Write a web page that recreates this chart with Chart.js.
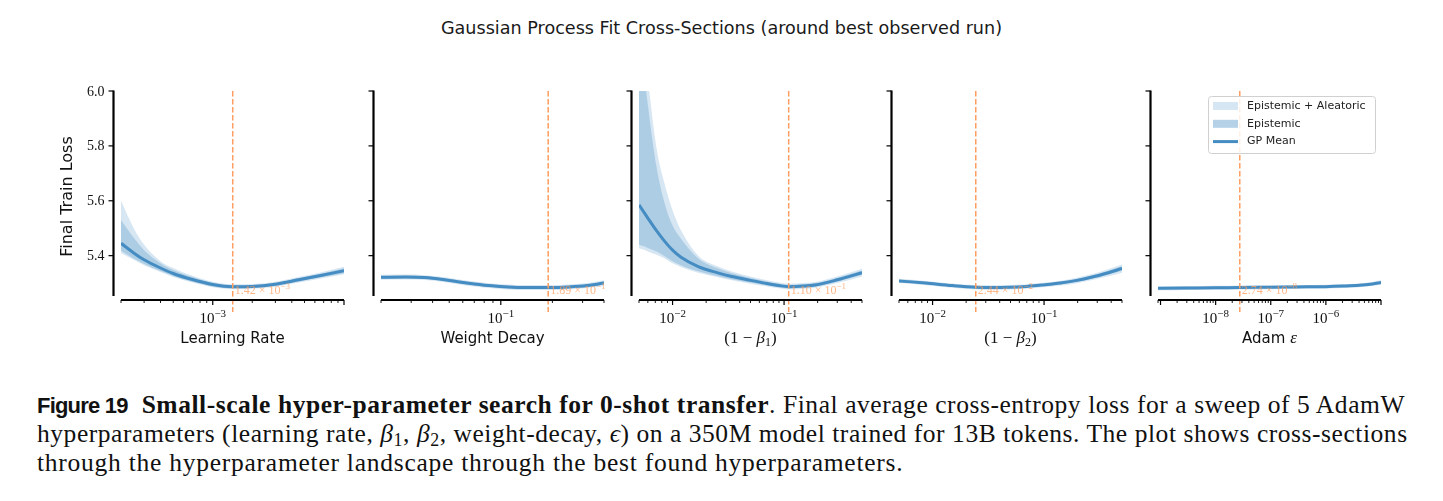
<!DOCTYPE html>
<html>
<head>
<meta charset="utf-8">
<script src="https://cdn.jsdelivr.net/npm/chart.js@4.4.1/dist/chart.umd.min.js"></script>
<style>
  body { margin:0; width:1443px; height:501px; background:#fff; position:relative; overflow:hidden; }
  #title { position:absolute; left:0; width:1443px; top:18px; text-align:center; font:17.6px 'DejaVu Sans'; color:#1a1a1a; }
  canvas { position:absolute; top:60px; }
  .cap { position:absolute; left:37px; width:1368px; font:25.5px/28px 'Liberation Serif'; letter-spacing:0.55px; color:#111; text-align:justify; text-align-last:justify; white-space:nowrap; }
  .cap.last { text-align-last:left; letter-spacing:0.75px; }
  .cap sub { font-size:0.7em; vertical-align:-0.25em; line-height:0; }
  .fig { font:bold 22px 'Liberation Sans'; letter-spacing:-0.8px; }
</style>
</head>
<body>
<div id="title">Gaussian Process Fit Cross-Sections (around best observed run)</div>
<canvas id="c0" width="333" height="300"></canvas>
<canvas id="c1" width="333" height="300"></canvas>
<canvas id="c2" width="333" height="300"></canvas>
<canvas id="c3" width="333" height="300"></canvas>
<canvas id="c4" width="333" height="300"></canvas>
<div class="cap" style="top:391px"><span class="fig">Figure 19</span>&nbsp; <b>Small-scale hyper-parameter search for 0-shot transfer</b>. Final average cross-entropy loss for a sweep of 5 AdamW</div>
<div class="cap" style="top:420px">hyperparameters (learning rate, <i>β</i><sub>1</sub>, <i>β</i><sub>2</sub>, weight-decay, <i>ϵ</i>) on a 350M model trained for 13B tokens. The plot shows cross-sections</div>
<div class="cap last" style="top:449px">through the hyperparameter landscape through the best found hyperparameters.</div>
<script>
// ---- data ----
const yTicks = [5.4, 5.6, 5.8, 6.0];
const yTickLabels = ['5.4', '5.6', '5.8', '6.0'];

// learning rate
const lrX      = [2e-4, 2.5e-4, 3e-4, 4e-4, 5e-4, 7e-4, 1e-3, 1.42e-3, 2e-3, 3e-3, 4.5e-3, 6.5e-3, 1e-2];
const lrMean   = [5.445, 5.41, 5.385, 5.355, 5.335, 5.313, 5.295, 5.287, 5.288, 5.296, 5.312, 5.327, 5.345];
const lrTotHi  = [5.60, 5.50, 5.44, 5.38, 5.355, 5.327, 5.305, 5.296, 5.297, 5.305, 5.322, 5.338, 5.36];
const lrTotLo  = [5.41, 5.385, 5.365, 5.34, 5.322, 5.302, 5.285, 5.278, 5.279, 5.287, 5.302, 5.316, 5.332];
const lrEpiHi  = [5.53, 5.465, 5.42, 5.372, 5.348, 5.322, 5.301, 5.292, 5.293, 5.301, 5.318, 5.333, 5.354];
const lrEpiLo  = [5.418, 5.39, 5.37, 5.344, 5.326, 5.305, 5.288, 5.281, 5.282, 5.290, 5.305, 5.320, 5.336];
const lrTicks  = [1e-3];

// weight decay
const wdX      = [0.02, 0.028, 0.036, 0.046, 0.056, 0.07, 0.089, 0.11, 0.14, 0.189, 0.25, 0.32, 0.4];
const wdMean   = [5.321, 5.322, 5.320, 5.313, 5.305, 5.297, 5.290, 5.286, 5.284, 5.284, 5.286, 5.291, 5.300];
const wdTotHi  = [5.330, 5.331, 5.329, 5.322, 5.314, 5.306, 5.299, 5.295, 5.293, 5.293, 5.295, 5.300, 5.310];
const wdTotLo  = [5.312, 5.313, 5.311, 5.304, 5.296, 5.288, 5.281, 5.277, 5.275, 5.275, 5.277, 5.282, 5.290];
const wdEpiHi  = [5.326, 5.327, 5.325, 5.318, 5.310, 5.302, 5.295, 5.291, 5.289, 5.289, 5.291, 5.296, 5.305];
const wdEpiLo  = [5.316, 5.317, 5.315, 5.308, 5.300, 5.292, 5.285, 5.281, 5.279, 5.279, 5.281, 5.286, 5.295];
const wdTicks  = [1e-1];

// 1 - beta1
const b1X      = [5e-3, 5.5e-3, 6e-3, 7.2e-3, 8.5e-3, 0.01, 0.012, 0.017, 0.025, 0.034, 0.05, 0.067, 0.09, 0.11, 0.15, 0.19, 0.3, 0.5];
const b1Mean   = [5.585, 5.56, 5.537, 5.49, 5.452, 5.42, 5.393, 5.36, 5.338, 5.324, 5.31, 5.30, 5.291, 5.287, 5.289, 5.293, 5.312, 5.338];
const b1TotHi  = [6.45, 6.22, 6.05, 5.79, 5.66, 5.565, 5.49, 5.40, 5.362, 5.342, 5.324, 5.312, 5.302, 5.298, 5.300, 5.304, 5.324, 5.352];
const b1TotLo  = [5.427, 5.422, 5.415, 5.403, 5.39, 5.372, 5.358, 5.338, 5.322, 5.310, 5.298, 5.289, 5.281, 5.277, 5.279, 5.283, 5.300, 5.324];
const b1EpiHi  = [6.25, 6.08, 5.95, 5.72, 5.59, 5.51, 5.46, 5.39, 5.355, 5.336, 5.319, 5.308, 5.298, 5.294, 5.296, 5.300, 5.319, 5.346];
const b1EpiLo  = [5.44, 5.435, 5.428, 5.415, 5.398, 5.38, 5.364, 5.343, 5.326, 5.314, 5.302, 5.293, 5.285, 5.281, 5.283, 5.287, 5.305, 5.330];
const b1Ticks  = [1e-2, 1e-1];

// 1 - beta2
const b2X      = [5e-3, 8.7e-3, 0.015, 0.0244, 0.035, 0.0486, 0.07, 0.0966, 0.14, 0.192, 0.27, 0.37, 0.5];
const b2Mean   = [5.308, 5.300, 5.291, 5.285, 5.284, 5.285, 5.288, 5.293, 5.300, 5.309, 5.322, 5.337, 5.353];
const b2TotHi  = [5.316, 5.308, 5.299, 5.293, 5.292, 5.293, 5.296, 5.301, 5.309, 5.319, 5.333, 5.350, 5.368];
const b2TotLo  = [5.300, 5.292, 5.283, 5.277, 5.276, 5.277, 5.280, 5.285, 5.291, 5.299, 5.311, 5.324, 5.338];
const b2EpiHi  = [5.312, 5.304, 5.295, 5.289, 5.288, 5.289, 5.292, 5.297, 5.305, 5.314, 5.328, 5.344, 5.361];
const b2EpiLo  = [5.304, 5.296, 5.287, 5.281, 5.280, 5.281, 5.284, 5.289, 5.295, 5.304, 5.316, 5.330, 5.345];
const b2Ticks  = [1e-2, 1e-1];

// adam epsilon
const epsX     = [9e-10, 3e-9, 1e-8, 2.74e-8, 1e-7, 3e-7, 1e-6, 2e-6, 4e-6, 7e-6, 1e-5];
const epsMean  = [5.281, 5.282, 5.283, 5.284, 5.285, 5.286, 5.287, 5.289, 5.292, 5.297, 5.302];
const epsTotHi = [5.288, 5.289, 5.290, 5.291, 5.292, 5.293, 5.294, 5.296, 5.299, 5.304, 5.310];
const epsTotLo = [5.274, 5.275, 5.276, 5.277, 5.278, 5.279, 5.280, 5.282, 5.285, 5.290, 5.294];
const epsEpiHi = [5.285, 5.286, 5.287, 5.288, 5.289, 5.290, 5.291, 5.293, 5.296, 5.301, 5.306];
const epsEpiLo = [5.277, 5.278, 5.279, 5.280, 5.281, 5.282, 5.283, 5.285, 5.288, 5.293, 5.298];
const epsTicks = [1e-8, 1e-7, 1e-6];

const bestVals = [1.42e-3, 1.89e-1, 1.10e-1, 2.44e-2, 2.74e-8];

const BLUE = '68,140,194';
const ORANGE = 'rgb(255,158,95)';
const SERIF = "'Liberation Serif'";
const SANS = "'DejaVu Sans'";

function pts(xs, ys) { return xs.map((x, i) => ({x: x, y: ys[i]})); }

function drawRich(ctx, parts, x, y, align) {
  let w = 0;
  parts.forEach(p => { ctx.font = p.f; p.w = ctx.measureText(p.t).width; w += p.w; });
  let cx = align === 'center' ? x - w / 2 : (align === 'right' ? x - w : x);
  ctx.textAlign = 'left';
  ctx.textBaseline = 'alphabetic';
  parts.forEach(p => { ctx.font = p.f; ctx.fillText(p.t, cx, y + (p.dy || 0)); cx += p.w; });
}

function powParts(v, size, prefix) {
  const e = Math.floor(Math.log10(v) + 1e-9);
  const expStr = (e < 0 ? '\u2212' : '') + Math.abs(e);
  const parts = [];
  if (prefix) parts.push({t: prefix, f: size + 'px ' + SERIF});
  parts.push({t: '10', f: size + 'px ' + SERIF});
  parts.push({t: expStr, f: Math.round(size * 0.75) + 'px ' + SERIF, dy: -size * 0.42});
  return parts;
}

const panelPlugin = {
  id: 'panel',
  afterDraw(chart, args, o) {
    const ctx = chart.ctx, a = chart.chartArea, xs = chart.scales.x, ys = chart.scales.y;
    ctx.save();

    // best-run marker
    const bx = xs.getPixelForValue(o.best);
    ctx.strokeStyle = ORANGE; ctx.lineWidth = 1.5; ctx.setLineDash([5.5, 2.5]);
    ctx.beginPath(); ctx.moveTo(bx, a.top); ctx.lineTo(bx, a.bottom + 16); ctx.stroke();
    ctx.setLineDash([]);
    const e = Math.floor(Math.log10(o.best) + 1e-9);
    const mant = (o.best / Math.pow(10, e)).toFixed(2);
    ctx.fillStyle = 'rgba(255,158,95,0.75)';
    drawRich(ctx, powParts(o.best, 12, mant + ' \u00d7 '), bx + 2, a.bottom - 2, 'left');

    // offset spines
    ctx.strokeStyle = '#000';
    ctx.lineWidth = 2.2;
    const sx = a.left - 7.5, sy = a.bottom + 4;
    ctx.beginPath(); ctx.moveTo(sx, a.top - 0.5); ctx.lineTo(sx, a.bottom); ctx.stroke();
    ctx.beginPath(); ctx.moveTo(a.left, sy); ctx.lineTo(a.right, sy); ctx.stroke();

    // y ticks
    ctx.lineWidth = 1.2;
    ctx.fillStyle = '#111';
    yTicks.forEach((v, i) => {
      const py = ys.getPixelForValue(v);
      ctx.beginPath(); ctx.moveTo(sx - 5, py); ctx.lineTo(sx, py); ctx.stroke();
      if (o.yLabels) {
        ctx.font = '14px ' + SERIF; ctx.textAlign = 'right'; ctx.textBaseline = 'alphabetic';
        ctx.fillText(yTickLabels[i], sx - 9, py + 4.5);
      }
    });

    // x ticks, major + minor
    const lo = Math.floor(Math.log10(xs.min)), hi = Math.ceil(Math.log10(xs.max));
    for (let p = lo; p <= hi; p++) {
      for (let m = 1; m < 10; m++) {
        const v = m * Math.pow(10, p);
        if (v < xs.min * 0.999 || v > xs.max * 1.001) continue;
        const px = xs.getPixelForValue(v);
        const len = m === 1 ? 5 : 3;
        ctx.lineWidth = m === 1 ? 1.2 : 0.9;
        ctx.beginPath(); ctx.moveTo(px, sy); ctx.lineTo(px, sy + len); ctx.stroke();
      }
    }
    ctx.fillStyle = '#111';
    o.xTicks.forEach(v => {
      drawRich(ctx, powParts(v, 15), xs.getPixelForValue(v), a.bottom + 27, 'center');
    });

    // axis label
    drawRich(ctx, o.xLabel, (a.left + a.right) / 2, a.bottom + 47, 'center');

    if (o.yLabels) {
      ctx.save();
      ctx.translate(a.left - 53, (a.top + a.bottom) / 2 + 3);
      ctx.rotate(-Math.PI / 2);
      ctx.font = '16px ' + SANS; ctx.textAlign = 'center'; ctx.textBaseline = 'middle';
      ctx.fillText('Final Train Loss', 0, 0);
      ctx.restore();
    }

    if (o.legend) {
      const L = a.right - 173, T = a.top + 5, W = 167, H = 57;
      ctx.fillStyle = 'rgba(255,255,255,0.85)';
      ctx.strokeStyle = '#d0d0d0'; ctx.lineWidth = 1;
      ctx.beginPath(); ctx.roundRect(L + 0.5, T + 0.5, W, H, 3); ctx.fill(); ctx.stroke();
      const rows = [
        {label: 'Epistemic + Aleatoric', fill: 'rgba(' + BLUE + ',0.22)'},
        {label: 'Epistemic', fill: 'rgba(' + BLUE + ',0.4)'},
        {label: 'GP Mean', line: 'rgb(' + BLUE + ')'}
      ];
      rows.forEach((r, i) => {
        const cy = T + 10 + i * 17.8;
        if (r.fill) { ctx.fillStyle = r.fill; ctx.fillRect(L + 5, cy - 4, 25, 8); }
        else { ctx.strokeStyle = r.line; ctx.lineWidth = 3; ctx.beginPath(); ctx.moveTo(L + 5, cy); ctx.lineTo(L + 30, cy); ctx.stroke(); }
        ctx.fillStyle = '#222'; ctx.font = '11px ' + SANS; ctx.textAlign = 'left'; ctx.textBaseline = 'middle';
        ctx.fillText(r.label, L + 39, cy);
      });
    }
    ctx.restore();
  }
};

function makePanel(id, left, xMin, xMax, xs, mean, totLo, totHi, epiLo, epiHi, opts) {
  const cv = document.getElementById(id);
  cv.style.left = (left - 85) + 'px';
  const band = {borderWidth: 0, pointRadius: 0, cubicInterpolationMode: 'monotone'};
  new Chart(cv, {
    type: 'line',
    data: {
      datasets: [
        Object.assign({data: pts(xs, totLo), fill: false}, band),
        Object.assign({data: pts(xs, totHi), fill: '-1', backgroundColor: 'rgba(' + BLUE + ',0.22)'}, band),
        Object.assign({data: pts(xs, epiLo), fill: false}, band),
        Object.assign({data: pts(xs, epiHi), fill: '-1', backgroundColor: 'rgba(' + BLUE + ',0.28)'}, band),
        {data: pts(xs, mean), borderColor: 'rgb(' + BLUE + ')', borderWidth: 3, pointRadius: 0, fill: false, cubicInterpolationMode: 'monotone'}
      ]
    },
    options: {
      responsive: false,
      animation: false,
      devicePixelRatio: 1,
      layout: {padding: {left: 85, right: 25, top: 31, bottom: 64}},
      scales: {
        x: {type: 'logarithmic', min: xMin, max: xMax, display: false},
        y: {type: 'linear', min: 5.253, max: 6.0, display: false}
      },
      plugins: {legend: {display: false}, tooltip: {enabled: false}, panel: opts}
    },
    plugins: [panelPlugin]
  });
}

const s15 = '15px ' + SANS, r17 = '17px ' + SERIF, i17 = 'italic 17px ' + SERIF, r12 = '12px ' + SERIF;

makePanel('c0', 121, 2e-4, 1e-2, lrX, lrMean, lrTotLo, lrTotHi, lrEpiLo, lrEpiHi,
  {best: bestVals[0], xTicks: lrTicks, yLabels: true, xLabel: [{t: 'Learning Rate', f: s15}]});
makePanel('c1', 381, 0.02, 0.4, wdX, wdMean, wdTotLo, wdTotHi, wdEpiLo, wdEpiHi,
  {best: bestVals[1], xTicks: wdTicks, xLabel: [{t: 'Weight Decay', f: s15}]});
makePanel('c2', 639, 5e-3, 0.5, b1X, b1Mean, b1TotLo, b1TotHi, b1EpiLo, b1EpiHi,
  {best: bestVals[2], xTicks: b1Ticks, xLabel: [{t: '(1 \u2212 ', f: r17}, {t: '\u03b2', f: i17}, {t: '1', f: r12, dy: 3}, {t: ')', f: r17}]});
makePanel('c3', 899, 5e-3, 0.5, b2X, b2Mean, b2TotLo, b2TotHi, b2EpiLo, b2EpiHi,
  {best: bestVals[3], xTicks: b2Ticks, xLabel: [{t: '(1 \u2212 ', f: r17}, {t: '\u03b2', f: i17}, {t: '2', f: r12, dy: 3}, {t: ')', f: r17}]});
makePanel('c4', 1158, 9e-10, 1e-5, epsX, epsMean, epsTotLo, epsTotHi, epsEpiLo, epsEpiHi,
  {best: bestVals[4], xTicks: epsTicks, legend: true, xLabel: [{t: 'Adam ', f: s15}, {t: '\u03b5', f: i17}]});
</script>
</body>
</html>
